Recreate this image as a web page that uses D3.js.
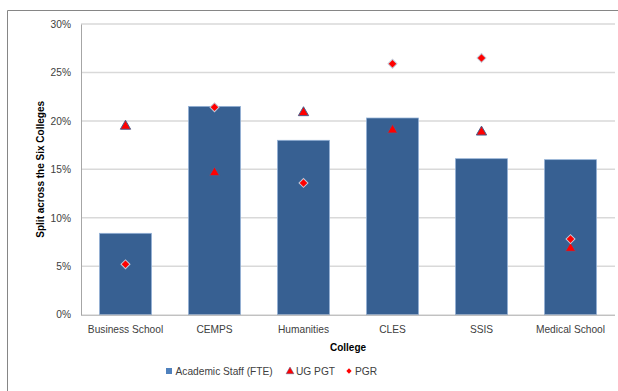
<!DOCTYPE html>
<html><head><meta charset="utf-8">
<script src="https://cdn.jsdelivr.net/npm/d3@7"></script>
<style>body{margin:0;background:#fff}svg{display:block}</style>
</head><body>
<script>
const categories = ["Business School","CEMPS","Humanities","CLES","SSIS","Medical School"];
const academicStaff = [0.084,0.215,0.180,0.203,0.161,0.160];
const ugPgt = [0.195,0.147,0.209,0.191,0.189,0.069];
const pgr = [0.052,0.214,0.136,0.259,0.265,0.078];
const yTicks = [0,0.05,0.10,0.15,0.20,0.25,0.30];
const seriesNames = ["Academic Staff (FTE)","UG PGT","PGR"];

const W=618,H=391;
const FONT = "'Liberation Sans',Arial,sans-serif";
const FS = 10.2;
const svg=d3.select("body").append("svg").attr("width",W).attr("height",H);

// outer frame
svg.append("path").attr("d","M7.5,391 V10.5 H618").attr("fill","none").attr("stroke","#868686").attr("stroke-width",1);

const m={l:81,r:615,t:24,b:314.7};
const x=d3.scaleBand().domain(categories).range([m.l,m.r]).paddingInner(0.415).paddingOuter(0.2075);
const y=d3.scaleLinear().domain([0,0.30]).range([m.b,m.t]);

// gridlines
svg.append("g").selectAll("line").data(yTicks.filter(d=>d>0)).join("line")
  .attr("x1",m.l).attr("x2",m.r).attr("y1",d=>y(d)).attr("y2",d=>y(d))
  .attr("stroke","#d9d9d9").attr("stroke-width",1.5);

// y axis
const ya=svg.append("g").attr("transform",`translate(${m.l},0)`)
  .call(d3.axisLeft(y).tickValues(yTicks).tickFormat(d3.format(".0%")).tickSize(0).tickPadding(10));
ya.select(".domain").attr("stroke","#a6a6a6");
ya.selectAll("text").attr("font-family",FONT).attr("font-size",FS).attr("fill","#404040");

// bars
svg.append("g").selectAll("rect").data(categories).join("rect")
  .attr("x",d=>x(d)).attr("width",x.bandwidth())
  .attr("y",(d,i)=>y(academicStaff[i])).attr("height",(d,i)=>y(0)-y(academicStaff[i]))
  .attr("fill","#376092").attr("stroke","#95b3d7").attr("stroke-width",0.75);

// x axis
const xa=svg.append("g").attr("transform",`translate(0,${m.b})`)
  .call(d3.axisBottom(x).tickSize(0).tickPadding(11));
xa.select(".domain").attr("stroke","#a6a6a6").attr("d",`M${m.l},0.5H${m.r}`);
xa.selectAll("text").attr("font-family",FONT).attr("font-size",FS).attr("fill","#404040");

const tri=d3.symbol().type(d3.symbolTriangle).size(46);
const sq=d3.symbol().type(d3.symbolSquare).size(40);
// UG PGT triangles
svg.append("g").selectAll("path").data(categories).join("path")
  .attr("transform",(d,i)=>`translate(${x(d)+x.bandwidth()/2},${y(ugPgt[i])+0.5})`)
  .attr("d",tri).attr("fill","#ff0000").attr("stroke","#4a5f8c").attr("stroke-width",1);
// PGR diamonds
svg.append("g").selectAll("path").data(categories).join("path")
  .attr("transform",(d,i)=>`translate(${x(d)+x.bandwidth()/2},${y(pgr[i])}) rotate(45)`)
  .attr("d",sq).attr("fill","#ff0000").attr("stroke","#c3cad8").attr("stroke-width",1);

// axis titles
svg.append("text").attr("x",(m.l+m.r)/2).attr("y",351).attr("text-anchor","middle")
  .attr("font-family",FONT).attr("font-size",10).attr("font-weight","bold").attr("fill","#000").text("College");
svg.append("text").attr("transform",`translate(44,${(m.t+m.b)/2}) rotate(-90)`).attr("text-anchor","middle")
  .attr("font-family",FONT).attr("font-size",10).attr("font-weight","bold").attr("fill","#000").text("Split across the Six Colleges");

// legend
const lg=svg.append("g").attr("font-family",FONT).attr("font-size",FS).attr("fill","#404040");
lg.append("rect").attr("x",166).attr("y",368).attr("width",6).attr("height",6).attr("fill","#4f81bd");
lg.append("text").attr("x",175.5).attr("y",375).text(seriesNames[0]);
lg.append("path").attr("transform","translate(290,371.5)").attr("d",d3.symbol().type(d3.symbolTriangle).size(26)).attr("fill","#ff0000").attr("stroke","#4a5f8c").attr("stroke-width",0.5);
lg.append("text").attr("x",296).attr("y",375).text(seriesNames[1]);
lg.append("path").attr("transform","translate(349,371) rotate(45)").attr("d",d3.symbol().type(d3.symbolSquare).size(14)).attr("fill","#ff0000");
lg.append("text").attr("x",355).attr("y",375).text(seriesNames[2]);
</script>
</body></html>
